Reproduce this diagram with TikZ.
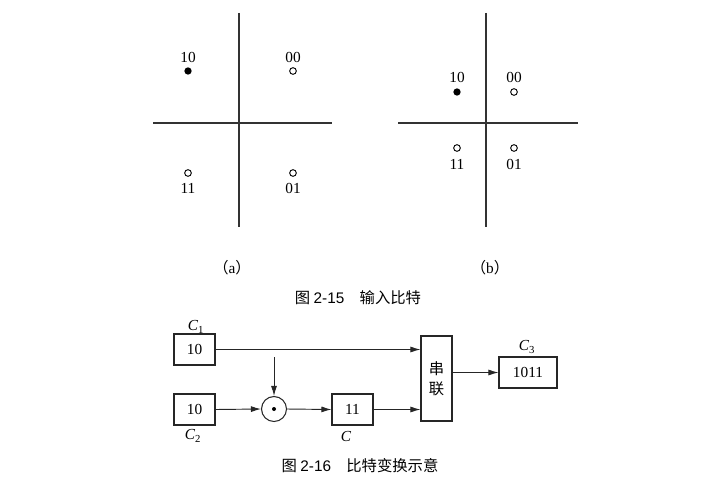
\documentclass[tikz,border=0pt]{standalone}
\usepackage{fontspec}
\setmainfont{Liberation Serif}
\newfontfamily\cjk{Noto Sans CJK SC}
\newfontfamily\capfont{Liberation Sans}
\usetikzlibrary{arrows.meta}
\begin{document}
\begin{tikzpicture}[x=0.75pt,y=-0.75pt,
  axis/.style={line width=0.8pt,draw=black!80},
  fdot/.style={circle,fill=black,inner sep=0pt,minimum size=5.5pt},
  odot/.style={circle,draw=black,line width=0.7pt,fill=white,inner sep=0pt,minimum size=5pt},
  lbl/.style={font=\fontsize{11.5}{13}\selectfont,inner sep=0pt},
  ilbl/.style={font=\fontsize{11.5}{13}\selectfont\itshape,inner sep=0pt},
  box/.style={draw=black!85,line width=0.8pt,inner sep=0pt},
  conn/.style={line width=0.7pt,draw=black!85,-{Latex[length=7.5pt,width=4.5pt]}},
  captext/.style={font=\fontsize{11.5}{13}\selectfont\cjk,inner sep=0pt}
]
\useasboundingbox (0,0) rectangle (712,481);
% (a)
\coordinate (aT) at (239,13); \coordinate (aB) at (239,227);
\coordinate (aL) at (153,123); \coordinate (aR) at (332,123);
\draw[axis] (aT) -- (aB); \draw[axis] (aL) -- (aR);
\node[fdot] (a10) at (188,71) {};
\node[lbl] (a10l) at (188,57) {10};
\node[odot] (a00) at (293,71) {};
\node[lbl] (a00l) at (293,57) {00};
\node[odot] (a11) at (188,173) {};
\node[lbl] (a11l) at (188,188) {11};
\node[odot] (a01) at (293,173) {};
\node[lbl] (a01l) at (293,188) {01};
% (b)
\coordinate (bT) at (486,13); \coordinate (bB) at (486,227);
\coordinate (bL) at (398,123); \coordinate (bR) at (578,123);
\draw[axis] (bT) -- (bB); \draw[axis] (bL) -- (bR);
\node[fdot] (b10) at (457,92) {};
\node[lbl] (b10l) at (457,77) {10};
\node[odot] (b00) at (514,92) {};
\node[lbl] (b00l) at (514,77) {00};
\node[odot] (b11) at (457,148) {};
\node[lbl] (b11l) at (457,164) {11};
\node[odot] (b01) at (514,148) {};
\node[lbl] (b01l) at (514,164) {01};
\node[lbl] (sa) at (232,268) {{\cjk （}a{\cjk ）}};
\node[lbl] (sb) at (490,268) {{\cjk （}b{\cjk ）}};
\node[captext] (cap1) at (358,298) {图 {\capfont 2-15}\quad 输入比特};
% Fig 2-16
\node[box,minimum width=41*0.75pt,minimum height=31*0.75pt,lbl] (c1) at (194.5,349.5) {10};
\node[ilbl] (c1l) at (196,327) {C\textsubscript{\upshape 1}};
\node[box,minimum width=41*0.75pt,minimum height=31*0.75pt,lbl] (c2) at (194.5,409.5) {10};
\node[ilbl] (c2l) at (193,436) {C\textsubscript{\upshape 2}};
\node[circle,draw=black!85,line width=0.8pt,minimum size=25*0.75pt,inner sep=0pt] (op) at (274,409) {};
\node[fdot,minimum size=3pt] (opd) at (274,409) {};
\coordinate (optop) at (274,357);
\node[box,minimum width=41*0.75pt,minimum height=31*0.75pt,lbl] (c) at (352.5,409.5) {11};
\node[ilbl] (cl) at (346,436) {C};
\node[box,minimum width=31*0.75pt,minimum height=85*0.75pt,font=\fontsize{11.5}{14}\selectfont\cjk,align=center] (cat) at (436.5,378.5) {串\\[1pt]联};
\node[box,minimum width=58*0.75pt,minimum height=31*0.75pt,lbl] (c3) at (528,372.5) {1011};
\node[ilbl] (c3l) at (527,347) {C\textsubscript{\upshape 3}};
\draw[conn] (c1.east) -- (c1.east -| cat.west);
\draw[conn] (c2.east) -- (op.west);
\draw[conn] (optop) -- (op.north);
\draw[conn] (op.east) -- (c.west);
\draw[conn] (c.east) -- (c.east -| cat.west);
\draw[conn] (cat.east |- c3.west) -- (c3.west);
\node[captext] (cap2) at (360,466) {图 {\capfont 2-16}\quad 比特变换示意};
\end{tikzpicture}
\end{document}
